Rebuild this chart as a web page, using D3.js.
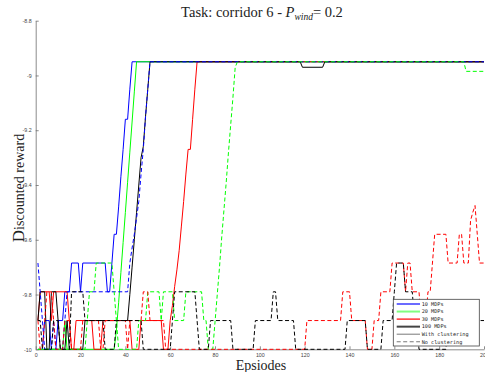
<!DOCTYPE html>
<html>
<head>
<meta charset="utf-8">
<script src="https://cdn.jsdelivr.net/npm/d3@7"></script>
<style>
  html, body { margin: 0; padding: 0; background: #fff; }
  .axis path, .axis line { stroke: #6e6e6e; }
  .axis text { fill: #444; font-family: 'Liberation Sans', sans-serif; font-size: 5.3px; }
</style>
</head>
<body>
<svg id="chart" width="485" height="372"></svg>
<script>
// episode / discounted reward pairs
const blueSolid = [[1,-10],[3,-10],[4,-9.895],[6,-9.895],[7,-10],[9,-10],[10,-9.895],[12,-9.895],[13,-9.79],[15,-9.79],[16,-9.685],[19,-9.685],[20,-9.79],[21,-9.685],[31,-9.685],[32,-9.79],[33,-9.79],[34,-9.685],[35,-9.58],[36,-9.58],[37,-9.48],[38,-9.37],[39,-9.27],[40,-9.16],[41,-9.16],[42,-9.05],[43,-8.95],[200,-8.95]];
const greenSolid = [[1,-10],[12,-10],[13,-9.895],[14,-10],[35,-10],[36,-9.93],[37,-9.83],[38,-9.72],[39,-9.61],[40,-9.5],[41,-9.39],[42,-9.28],[43,-9.17],[44,-9.06],[45,-8.95],[200,-8.95]];
const redSolid = [[1,-9.895],[2,-9.79],[6,-9.79],[7,-9.895],[8,-9.79],[14,-9.79],[15,-9.895],[16,-10],[17,-10],[18,-9.895],[25,-9.895],[26,-10],[29,-10],[30,-9.895],[42,-9.895],[43,-10],[46,-10],[47,-9.895],[56,-9.895],[57,-10],[59,-10],[60,-9.895],[61,-9.84],[62,-9.77],[63,-9.71],[64,-9.64],[65,-9.55],[66,-9.46],[67,-9.36],[68,-9.27],[69,-9.27],[70,-9.16],[71,-9.05],[72,-8.95],[200,-8.95]];
const blackSolid = [[1,-9.895],[2,-9.79],[4,-9.79],[5,-10],[6,-10],[7,-9.79],[9,-9.79],[10,-9.895],[11,-10],[13,-10],[14,-9.895],[15,-10],[21,-10],[22,-9.895],[41,-9.895],[42,-9.8],[43,-9.7],[44,-9.6],[45,-9.5],[46,-9.4],[47,-9.3],[48,-9.26],[49,-9.15],[50,-9.05],[51,-8.95],[118,-8.95],[119,-8.97],[128,-8.97],[129,-8.95],[200,-8.95]];
const blueDashed = [[1,-9.685],[2,-9.79],[3,-9.895],[4,-10],[7,-10],[8,-9.895],[9,-10],[12,-10],[13,-9.895],[14,-9.79],[41,-9.79],[42,-9.685],[43,-9.63],[44,-9.58],[45,-9.52],[46,-9.46],[47,-9.36],[48,-9.27],[49,-9.15],[50,-9.05],[51,-8.95],[200,-8.95]];
const greenDashed = [[1,-10],[22,-10],[23,-9.895],[24,-9.79],[26,-9.79],[27,-9.685],[34,-9.685],[35,-9.79],[36,-9.895],[37,-10],[45,-10],[46,-9.895],[49,-9.895],[50,-9.79],[55,-9.79],[56,-9.895],[57,-9.79],[61,-9.79],[62,-9.895],[66,-9.895],[67,-9.79],[74,-9.79],[75,-9.895],[76,-9.895],[77,-10],[79,-10],[80,-9.9],[81,-9.8],[82,-9.7],[83,-9.59],[84,-9.49],[85,-9.39],[86,-9.28],[87,-9.18],[88,-9.08],[89,-8.97],[90,-8.95],[191,-8.95],[192,-8.985],[200,-8.985]];
const redDashed = [[1,-9.895],[2,-10],[3,-10],[4,-9.895],[5,-9.79],[7,-9.79],[8,-9.895],[9,-10],[12,-10],[13,-9.895],[15,-9.895],[16,-10],[20,-10],[21,-9.895],[28,-9.895],[29,-10],[30,-10],[31,-9.895],[40,-9.895],[41,-10],[42,-9.895],[47,-9.895],[48,-9.79],[50,-9.79],[51,-9.895],[57,-9.895],[58,-10],[120,-10],[121,-9.895],[136,-9.895],[137,-9.79],[140,-9.79],[141,-9.895],[147,-9.895],[148,-10],[150,-10],[151,-9.895],[153,-9.895],[154,-9.79],[158,-9.79],[159,-9.685],[164,-9.685],[165,-9.79],[166,-9.685],[167,-9.685],[168,-9.79],[171,-9.79],[172,-9.895],[174,-9.895],[175,-9.79],[176,-9.79],[177,-9.685],[178,-9.58],[183,-9.58],[184,-9.685],[188,-9.685],[189,-9.58],[190,-9.58],[191,-9.685],[193,-9.685],[194,-9.53],[195,-9.5],[196,-9.475],[197,-9.58],[198,-9.685],[200,-9.685]];
const blackDashed = [[1,-9.895],[2,-9.895],[3,-10],[7,-10],[8,-9.895],[10,-9.895],[11,-10],[15,-10],[16,-9.79],[21,-9.79],[22,-9.895],[30,-9.895],[31,-10],[35,-10],[36,-9.895],[47,-9.895],[48,-10],[60,-10],[61,-9.895],[62,-9.79],[71,-9.79],[72,-9.895],[73,-10],[77,-10],[78,-9.895],[87,-9.895],[88,-10],[97,-10],[98,-9.895],[105,-9.895],[106,-9.79],[107,-9.79],[108,-9.895],[115,-9.895],[116,-10],[138,-10],[139,-9.895],[147,-9.895],[148,-10],[154,-10],[155,-9.895],[159,-9.895],[160,-9.79],[161,-9.685],[164,-9.685],[165,-9.79],[168,-9.79],[169,-9.895],[170,-9.895],[171,-10],[183,-10],[184,-9.895],[200,-9.895]];

const xTicks = [0, 20, 40, 60, 80, 100, 120, 140, 160, 180, 200];
const yTicks = [-10, -9.8, -9.6, -9.4, -9.2, -9, -8.8];
const legendLabels = ['10 MDPs', '20 MDPs', '30 MDPs', '100 MDPs', 'With clustering', 'No clustering'];

const svg = d3.select('#chart');
const plotLeft = 35.7;
const plotRight = 484;
const plotTop = 20.7;
const plotBottom = 349.3;

const x = d3.scaleLinear().domain([0, 200]).range([plotLeft, plotRight]);
const y = d3.scaleLinear().domain([-10, -8.8]).range([plotBottom, plotTop]);

svg.append('g')
  .attr('class', 'axis')
  .attr('transform', `translate(0, ${plotBottom})`)
  .call(d3.axisBottom(x).tickValues(xTicks).tickSizeInner(-3).tickSizeOuter(0).tickPadding(4));

svg.append('g')
  .attr('class', 'axis')
  .attr('transform', `translate(${plotLeft}, 0)`)
  .call(d3.axisLeft(y).tickValues(yTicks).tickSizeInner(-3).tickSizeOuter(0).tickPadding(4)
    .tickFormat(d => String(+d.toFixed(1))));

svg.selectAll('.axis path').attr('stroke-width', 0.8);
svg.selectAll('.axis line').attr('stroke-width', 0.8);

const line = d3.line()
  .x(d => x(d[0]))
  .y(d => y(d[1]));

// solid runs first, then the dashed ones on top (same order as the legend)
const series = [
  { data: blueSolid, color: '#0000ff', dash: null },
  { data: greenSolid, color: '#00ff00', dash: null },
  { data: redSolid, color: '#ff0000', dash: null },
  { data: blackSolid, color: '#000000', dash: null },
  { data: blueDashed, color: '#0000ff', dash: '4,2.5' },
  { data: greenDashed, color: '#00ff00', dash: '4,2.5' },
  { data: redDashed, color: '#ff0000', dash: '4,2.5' },
  { data: blackDashed, color: '#000000', dash: '4,2.5' },
];

svg.append('g')
  .selectAll('path')
  .data(series)
  .enter()
  .append('path')
  .attr('d', d => line(d.data))
  .attr('fill', 'none')
  .attr('stroke', d => d.color)
  .attr('stroke-width', 1)
  .attr('stroke-dasharray', d => d.dash);

// title
const title = svg.append('text')
  .attr('x', 262)
  .attr('y', 17)
  .attr('text-anchor', 'middle')
  .attr('font-family', "'Liberation Serif', serif")
  .attr('font-size', 14.5)
  .attr('fill', '#222');
title.append('tspan').text('Task: corridor 6 - ');
title.append('tspan').attr('font-style', 'italic').text('P');
title.append('tspan').attr('font-style', 'italic').attr('font-size', 9.5).attr('dy', 2.5).text('wind');
title.append('tspan').attr('dy', -2.5).text('= 0.2');

svg.append('text')
  .attr('x', 261)
  .attr('y', 370)
  .attr('text-anchor', 'middle')
  .attr('font-family', "'Liberation Serif', serif")
  .attr('font-size', 14)
  .attr('fill', '#222')
  .text('Epsiodes');

const yLabel = svg.append('text')
  .attr('transform', 'translate(24, 188) rotate(-90)')
  .attr('text-anchor', 'middle')
  .attr('font-family', "'Liberation Serif', serif")
  .attr('font-size', 14)
  .attr('fill', '#222');
yLabel.append('tspan').attr('font-size', 17).text('D');
yLabel.append('tspan').text('iscounted reward');

// legend
const legend = svg.append('g').attr('transform', 'translate(393.3, 299.3)');
legend.append('rect')
  .attr('width', 86)
  .attr('height', 46.7)
  .attr('fill', '#fff')
  .attr('stroke', '#444')
  .attr('stroke-width', 0.8);

const legendStyles = [
  { color: '#6b6bff', width: 2, dash: null },
  { color: '#80ff80', width: 2, dash: null },
  { color: '#ff0000', width: 1.2, dash: null },
  { color: '#444444', width: 2, dash: null },
  { color: '#555555', width: 0.8, dash: null },
  { color: '#555555', width: 0.8, dash: '4,2.5' },
];

const rows = legend.selectAll('g.row')
  .data(legendLabels)
  .enter()
  .append('g')
  .attr('class', 'row')
  .attr('transform', (d, i) => `translate(0, ${4.7 + i * 7.55})`);

rows.append('line')
  .attr('x1', 3.4)
  .attr('x2', 26.7)
  .attr('stroke', (d, i) => legendStyles[i].color)
  .attr('stroke-width', (d, i) => legendStyles[i].width)
  .attr('stroke-dasharray', (d, i) => legendStyles[i].dash);

rows.append('text')
  .attr('x', 28.4)
  .attr('dy', '0.35em')
  .attr('font-family', "'DejaVu Sans Mono', monospace")
  .attr('font-size', 5.2)
  .attr('fill', '#222')
  .text(d => d);
</script>
</body>
</html>
